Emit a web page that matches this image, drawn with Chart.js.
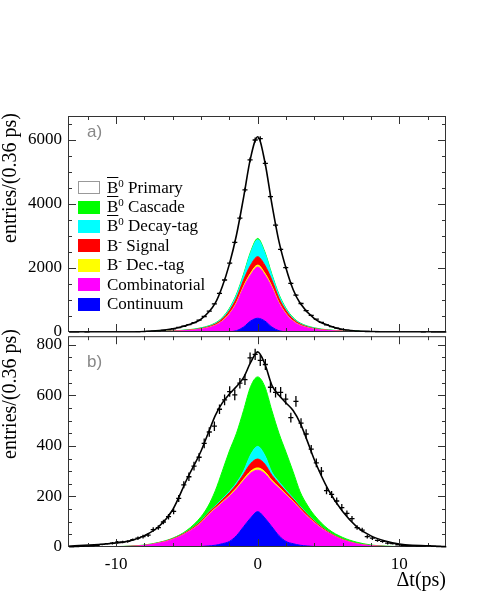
<!DOCTYPE html>
<html>
<head>
<meta charset="utf-8">
<script src="https://cdn.jsdelivr.net/npm/chart.js@4.4.0/dist/chart.umd.min.js"></script>
<style>
  body { margin: 0; background: #fff; width: 491px; height: 613px; position: relative; overflow: hidden; font-family: "Liberation Serif", serif; color: #000; }
  canvas { position: absolute; left: 0; }
  #cA { top: 90px; }
  #cB { top: 320px; }
  .ytitle { position: absolute; left: -1px; width: 200px; line-height: 20px; font-size: 20px; text-align: right; white-space: nowrap; transform-origin: 0 0; transform: rotate(-90deg); }
  .panel { position: absolute; left: 87px; font-family: "Liberation Sans", sans-serif; font-size: 17px; color: #888; }
  #xtitle { position: absolute; right: 45px; top: 568px; font-size: 20px; line-height: 22px; }
  #legend { position: absolute; left: 78px; top: 178px; font-size: 17px; }
  #legend .row { height: 19.4px; display: flex; align-items: center; white-space: nowrap; }
  #legend .box { display: inline-block; width: 20px; height: 11px; border: 1px solid; margin-right: 7px; }
  #legend sup { font-size: 11px; vertical-align: 6px; line-height: 0; }
  .ov { text-decoration: overline; }
</style>
</head>
<body>
<canvas id="cA" width="491" height="260"></canvas>
<canvas id="cB" width="491" height="293"></canvas>
<div class="ytitle" style="top:313px">entries/(0.36 ps)</div>
<div class="ytitle" style="top:529px">entries/(0.36 ps)</div>
<div class="panel" style="top:122px">a)</div>
<div class="panel" style="top:352px">b)</div>
<div id="xtitle">&Delta;t(ps)</div>
<div id="legend"></div>
<script>
// Curve sampling points (ps)
const gridA = [-13.4, -10, -8, -6, -5, -4, -3, -2.5, -2, -1.5, -1, -0.5, 0, 0.5, 1, 1.5, 2, 2.5, 3, 4, 5, 6, 8, 10, 13.3];
const gridB = [-13.4, -10, -9, -8, -7, -6, -5, -4, -3.5, -3, -2.5, -2, -1.5, -1, -0.5, 0, 0.5, 1, 1.5, 2, 2.5, 3, 3.5, 4, 5, 6, 7, 8, 9, 10, 13.3];

// Panel a) components
const continuumA = [0, 0, 0, 0, 0, 0, 1, 3, 10, 40, 155, 345, 430, 345, 155, 40, 10, 3, 1, 0, 0, 0, 0, 0, 0];
const combinatorialA = [0, 2, 7, 24, 45, 88, 200, 330, 545, 855, 1235, 1440, 1600, 1440, 1235, 855, 545, 330, 200, 88, 45, 24, 7, 2, 0];
const decTagA = [0, 0, 0.5, 1.5, 3, 5, 10, 15, 22, 30, 43, 55, 60, 55, 43, 30, 22, 15, 10, 5, 3, 1.5, 0.5, 0, 0];
const signalA = [0, 0.3, 1, 4, 8, 15, 35, 55, 88, 130, 190, 250, 265, 250, 190, 130, 88, 55, 35, 15, 8, 4, 1, 0.3, 0];
const decayTagA = [0, 0, 1, 3, 5, 12, 20, 28, 50, 94, 150, 380, 530, 380, 150, 94, 50, 28, 20, 12, 5, 3, 1, 0, 0];
const cascadeA = [0, 0.5, 1, 3, 5, 10, 15, 20, 25, 30, 35, 40, 40, 40, 35, 30, 25, 20, 15, 10, 5, 3, 1, 0.5, 0];
const primaryA = [0.5, 0.7, 3.5, 64, 146, 270, 619, 969, 1380, 1851, 2392, 2938, 3175, 2818, 2192, 1651, 1250, 879, 619, 290, 139, 45, 1.5, 0.2, 0];

// Panel b) components
const continuumB = [0, 0, 0, 0, 0, 0, 0.5, 2, 4, 7, 13, 22, 45, 80, 115, 140, 115, 80, 45, 22, 13, 7, 4, 2, 0.5, 0, 0, 0, 0, 0, 0];
const combinatorialB = [0, 1, 2.5, 6, 15, 30, 55.5, 93, 121, 143, 162, 178, 183, 182, 177, 164, 175, 178, 187, 183, 165, 141, 116, 93, 54.5, 28, 12, 5, 2, 1, 0];
const decTagB = [0, 0, 0, 0, 0.3, 0.5, 1, 2, 2.5, 3, 3, 4, 5, 6, 8, 9, 8, 6, 5, 4, 3, 3, 2.5, 2, 1, 0.5, 0.3, 0, 0, 0, 0];
const signalB = [0, 0, 0.3, 0.5, 1, 2, 3, 5, 6, 7, 9, 11, 14, 20, 30, 35, 30, 20, 14, 11, 9, 7, 6, 5, 3, 2, 1, 0.5, 0.3, 0, 0];
const decayTagB = [0, 0, 0, 0, 0.3, 0.5, 1, 2, 2.5, 3, 4, 5, 7, 12, 35, 50, 35, 12, 7, 5, 4, 3, 2.5, 2, 1, 0.5, 0.3, 0, 0, 0, 0];
const cascadeB = [0, 0.5, 0.7, 1.5, 1.4, 2, 5, 16, 26, 59, 109, 160, 196, 240, 270, 275, 272, 244, 192, 150, 104, 57, 35, 22, 10, 7, 5.4, 2.5, 1.2, 0.5, 0];
const primaryB = [3, 14.5, 21.5, 37, 62, 113, 202, 260, 288, 298, 270, 225, 185, 130, 95, 99, 90, 100, 150, 195, 242, 272, 254, 219, 155, 102, 61, 36, 20.5, 10.5, 2];

// Measured points, 0.36 ps bins
const binCenters = [-13.14, -12.78, -12.42, -12.06, -11.70, -11.34, -10.98, -10.62, -10.26, -9.90, -9.54, -9.18, -8.82, -8.46, -8.10, -7.74, -7.38, -7.02, -6.66, -6.30, -5.94, -5.58, -5.22, -4.86, -4.50, -4.14, -3.78, -3.42, -3.06, -2.70, -2.34, -1.98, -1.62, -1.26, -0.90, -0.54, -0.18,
  0.18, 0.54, 0.90, 1.26, 1.62, 1.98, 2.34, 2.70, 3.06, 3.42, 3.78, 4.14, 4.50, 4.86, 5.22, 5.58, 5.94, 6.30, 6.66, 7.02, 7.38, 7.74, 8.10, 8.46, 8.82, 9.18, 9.54, 9.90, 10.26, 10.62, 10.98, 11.34, 11.70, 12.06, 12.42, 12.78, 13.14];
const halfBin = 0.18;
const countsA = [0, 0, 1, 0, 1, 1, 1, 2, 2, 3, 3, 4, 6, 8, 12, 18, 26, 37, 52, 72, 102, 140, 180, 232, 290, 370, 485, 650, 880, 1210, 1625, 2150, 2800, 3560, 4440, 5380, 6000,
  6040, 5270, 4230, 3340, 2580, 2010, 1520, 1150, 890, 670, 520, 400, 300, 225, 165, 118, 82, 57, 40, 29, 21, 15, 11, 8, 6, 4, 3, 2, 2, 1, 1, 1, 0, 1, 0, 0, 0];
const errorsA = [1, 1, 1, 1, 1, 1, 1, 1.4, 1.4, 1.7, 1.7, 2, 2.5, 3, 3.5, 4, 5, 6, 7, 8.5, 10, 12, 13, 15, 17, 19, 22, 25, 30, 35, 40, 46, 53, 60, 67, 73, 77,
  78, 73, 65, 58, 51, 45, 39, 34, 30, 26, 23, 20, 17, 15, 13, 11, 9, 7.5, 6.3, 5.4, 4.6, 3.9, 3.3, 2.8, 2.4, 2, 1.7, 1.4, 1.4, 1, 1, 1, 1, 1, 1, 1, 1];
const countsB = [1, 2, 3, 4, 5, 7, 10, 13, 15, 19, 20, 22, 29, 35, 41, 47, 69, 77, 99, 120, 141, 192, 246, 278, 320, 355, 410, 455, 478, 545, 582, 615, 602, 648, 662, 748, 762,
  738, 722, 632, 612, 612, 585, 512, 576, 490, 447, 387, 333, 300, 223, 208, 182, 156, 133, 112, 77, 67, 41, 35, 26, 22, 15, 13, 9, 6, 5, 5, 4, 4, 5, 3, 2, 1];
const errorsB = [2, 2, 2, 2, 3, 3, 3, 3, 5, 5, 5, 5, 5, 7, 7, 7, 9, 9, 9, 11, 11, 14, 14, 17, 17, 17, 19, 19, 19, 19, 21, 21, 21, 21, 21, 22, 22,
  22, 22, 21, 21, 21, 21, 19, 21, 19, 19, 17, 17, 17, 14, 14, 14, 14, 11, 11, 9, 9, 7, 7, 5, 5, 5, 3, 3, 3, 3, 3, 2, 2, 3, 2, 2, 2];

// Axis ticks
const xTicks = [-10, 0, 10];
const yTicksA = [0, 2000, 4000, 6000];
const yTicksB = [0, 200, 400, 600, 800];

const components = [
  { label: 'Continuum', html: 'Continuum', color: '#0000ff' },
  { label: 'Combinatorial', html: 'Combinatorial', color: '#ff00ff' },
  { label: 'B- Dec.-tag', html: 'B<sup>-</sup> Dec.-tag', color: '#ffff00' },
  { label: 'B- Signal', html: 'B<sup>-</sup> Signal', color: '#ff0000' },
  { label: 'B0bar Decay-tag', html: '<span class="ov">B</span><sup>0</sup> Decay-tag', color: '#00ffff' },
  { label: 'B0bar Cascade', html: '<span class="ov">B</span><sup>0</sup> Cascade', color: '#00ff00' },
  { label: 'B0bar Primary', html: '<span class="ov">B</span><sup>0</sup> Primary', color: '#ffffff' }
];

// legend, top entry first
document.getElementById('legend').innerHTML = components.slice().reverse().map(c =>
  `<div class="row"><span class="box" style="background:${c.color};border-color:${c.color === '#ffffff' ? '#999' : c.color}"></span><span>${c.html}</span></div>`
).join('');

const pts = (xs, ys) => xs.map((x, i) => ({ x: x, y: ys[i] }));

function buildDatasets(grid, series, counts, errors) {
  const sets = series.map((vals, i) => {
    const c = components[i];
    const top = i === series.length - 1;
    return {
      label: c.label,
      data: pts(grid, vals),
      stack: 'fit',
      backgroundColor: c.color,
      borderColor: top ? '#000' : c.color,
      borderWidth: top ? 1.6 : 1,
      fill: i === 0 ? 'origin' : '-1',
      pointRadius: 0,
      cubicInterpolationMode: 'monotone'
    };
  });
  sets.push({
    label: 'data',
    data: pts(binCenters, counts),
    errors: errors,
    stack: 'data',
    showLine: false,
    pointRadius: 0,
    fill: false
  });
  return sets;
}

// frame with inward ticks on all four sides
const frame = {
  id: 'frame',
  afterDatasetsDraw(chart, args, opts) {
    const { ctx, chartArea: a, scales: { x, y } } = chart;
    ctx.save();
    ctx.strokeStyle = '#333';
    ctx.lineWidth = 1;
    ctx.strokeRect(a.left + 0.5, a.top + 0.5, a.right - a.left - 1, a.bottom - a.top - 1);
    ctx.beginPath();
    for (let v = -12; v <= 12; v += 2) {
      const len = v % 10 === 0 ? 8 : 4;
      const px = Math.round(x.getPixelForValue(v)) + 0.5;
      ctx.moveTo(px, a.bottom); ctx.lineTo(px, a.bottom - len);
      ctx.moveTo(px, a.top); ctx.lineTo(px, a.top + len);
    }
    for (let v = opts.minor; v < y.max; v += opts.minor) {
      const len = v % opts.major === 0 ? 8 : 4;
      const py = Math.round(y.getPixelForValue(v)) + 0.5;
      ctx.moveTo(a.left, py); ctx.lineTo(a.left + len, py);
      ctx.moveTo(a.right, py); ctx.lineTo(a.right - len, py);
    }
    ctx.stroke();
    ctx.restore();
  }
};

// data crosses: bin width horizontally, error vertically
const errorBars = {
  id: 'errorBars',
  afterDatasetsDraw(chart) {
    const { ctx, scales: { x, y } } = chart;
    const ds = chart.data.datasets.find(d => d.errors);
    ctx.save();
    ctx.strokeStyle = '#000';
    ctx.lineWidth = 1.3;
    ctx.beginPath();
    ds.data.forEach((p, i) => {
      const px = x.getPixelForValue(p.x);
      const py = y.getPixelForValue(p.y);
      ctx.moveTo(x.getPixelForValue(p.x - halfBin), py);
      ctx.lineTo(x.getPixelForValue(p.x + halfBin), py);
      ctx.moveTo(px, y.getPixelForValue(Math.max(0, p.y - ds.errors[i])));
      ctx.lineTo(px, y.getPixelForValue(p.y + ds.errors[i]));
    });
    ctx.stroke();
    ctx.restore();
  }
};

const tickFont = { family: 'Liberation Serif', size: 17 };

function yScale(max, ticks) {
  return {
    stacked: true, min: 0, max: max,
    grid: { display: false, drawTicks: false },
    border: { display: false },
    afterBuildTicks: s => { s.ticks = ticks.map(v => ({ value: v })); },
    afterFit: s => { s.width = 68; },
    ticks: { padding: 6, color: '#000', font: tickFont, callback: v => String(v) }
  };
}

new Chart(document.getElementById('cA'), {
  type: 'line',
  data: { datasets: buildDatasets(gridA, [continuumA, combinatorialA, decTagA, signalA, decayTagA, cascadeA, primaryA], countsA, errorsA) },
  options: {
    responsive: false, animation: false, devicePixelRatio: 1,
    layout: { padding: { top: 26, right: 45, bottom: 18, left: 0 } },
    plugins: { legend: { display: false }, tooltip: { enabled: false }, frame: { minor: 500, major: 2000 } },
    scales: {
      x: { type: 'linear', min: -13.4, max: 13.3, display: false },
      y: yScale(6750, yTicksA)
    }
  },
  plugins: [frame, errorBars]
});

new Chart(document.getElementById('cB'), {
  type: 'line',
  data: { datasets: buildDatasets(gridB, [continuumB, combinatorialB, decTagB, signalB, decayTagB, cascadeB, primaryB], countsB, errorsB) },
  options: {
    responsive: false, animation: false, devicePixelRatio: 1,
    layout: { padding: { top: 12, right: 45, bottom: 0, left: 0 } },
    plugins: { legend: { display: false }, tooltip: { enabled: false }, frame: { minor: 50, major: 200 } },
    scales: {
      x: {
        type: 'linear', min: -13.4, max: 13.3,
        grid: { display: false, drawTicks: false },
        border: { display: false },
        afterBuildTicks: s => { s.ticks = xTicks.map(v => ({ value: v })); },
        afterFit: s => { s.height = 66; },
        ticks: { padding: 7, color: '#000', font: tickFont, maxRotation: 0, callback: v => String(v) }
      },
      y: yScale(834, yTicksB)
    }
  },
  plugins: [frame, errorBars]
});
</script>
</body>
</html>
